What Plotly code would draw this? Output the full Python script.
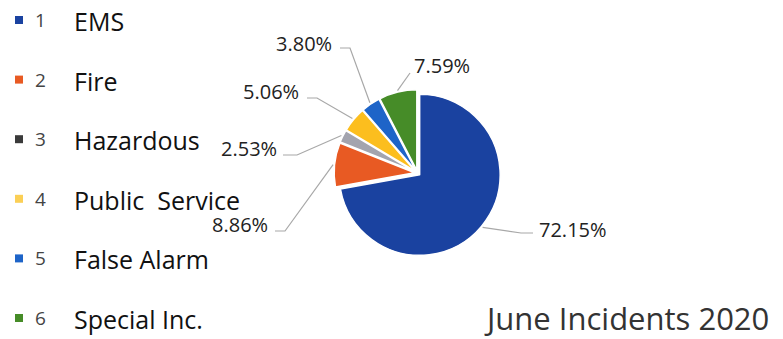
import math
import plotly.graph_objects as go

# ---- data ----
categories = ["EMS", "Fire", "Hazardous", "Public  Service", "False Alarm", "Special Inc."]
numbers = ["1", "2", "3", "4", "5", "6"]
percent_values = [72.15, 8.86, 2.53, 5.06, 3.80, 7.59]
pct_labels = ["72.15%", "8.86%", "2.53%", "5.06%", "3.80%", "7.59%"]
title_text = "June Incidents 2020"

# ---- styles / layout ----
W, H = 783, 339
pie_colors = ["#1a42a0", "#e85a23", "#a3a4ae", "#fcbe1e", "#1e64c8", "#468c28"]
legend_colors = ["#1a42a0", "#e85a23", "#3a3a3a", "#fbcf55", "#1e64c8", "#468c28"]
PULL = 0.035
CX, CY, R = 417.5, 173.0, 80.5
FONT = "Open Sans"

# label layout (pixels): elbow point, end of leader, text anchor
label_layout = [
    dict(elbow=(521, 233), end=(533, 233), text=(537, 229, "left")),
    dict(elbow=(285, 231), end=(275, 231), text=(270, 224, "right")),
    dict(elbow=(297, 155), end=(283, 155), text=(279, 148, "right")),
    dict(elbow=(317, 98), end=(307, 98), text=(301, 91, "right")),
    dict(elbow=(350, 48), end=(340, 48), text=(334, 43, "right")),
    dict(elbow=(410, 73), end=(410, 73), text=(412, 65, "left")),
]

half = R * (1 + PULL)
fig = go.Figure()

fig.add_trace(go.Pie(
    values=percent_values,
    labels=categories,
    sort=False,
    direction="clockwise",
    rotation=0,
    pull=[PULL] * len(percent_values),
    marker=dict(colors=pie_colors, line=dict(color="white", width=1.5)),
    textinfo="none",
    hoverinfo="label+percent",
    showlegend=False,
    domain=dict(x=[(CX - half) / W, (CX + half) / W],
                y=[1 - (CY + half) / H, 1 - (CY - half) / H]),
))

# legend markers (drawn as scatter on hidden pixel axes)
leg_y = [20 + 59.6 * i for i in range(len(categories))]
fig.add_trace(go.Scatter(
    x=[19] * len(categories), y=leg_y, mode="markers",
    marker=dict(symbol="square", size=8, color=legend_colors),
    hoverinfo="skip", showlegend=False,
))

shapes = []
annotations = []
total = sum(percent_values)
cum = 0.0
r_start = R * (1 + PULL) + 1.5
for v, lab, lay in zip(percent_values, pct_labels, label_layout):
    mid = (cum + v / 2) / total * 2 * math.pi
    cum += v
    sx = CX + r_start * math.sin(mid)
    sy = CY - r_start * math.cos(mid)
    ex, ey = lay["elbow"]
    fx, fy = lay["end"]
    shapes.append(dict(type="path", xref="x", yref="y",
                       path=f"M {sx:.1f} {sy:.1f} L {ex} {ey} L {fx} {fy}",
                       line=dict(color="#a8a8a8", width=1.2)))
    tx, ty, anc = lay["text"]
    annotations.append(dict(x=tx, y=ty, xref="x", yref="y", text=lab,
                            showarrow=False, xanchor=anc, yanchor="middle",
                            font=dict(family=FONT, size=20, color="#222222")))

for i, (num, cat) in enumerate(zip(numbers, categories)):
    annotations.append(dict(x=33, y=leg_y[i], xref="x", yref="y", text=num,
                            showarrow=False, xanchor="left", yanchor="middle",
                            font=dict(family=FONT, size=19, color="#444444")))
    annotations.append(dict(x=72, y=leg_y[i] + 1, xref="x", yref="y", text=cat,
                            showarrow=False, xanchor="left", yanchor="middle",
                            font=dict(family=FONT, size=25, color="#111111")))

annotations.append(dict(x=771, y=318, xref="x", yref="y", text=title_text,
                        showarrow=False, xanchor="right", yanchor="middle",
                        font=dict(family=FONT, size=31, color="#333333")))

fig.update_layout(
    width=W, height=H,
    margin=dict(l=0, r=0, t=0, b=0),
    paper_bgcolor="white", plot_bgcolor="rgba(0,0,0,0)",
    xaxis=dict(range=[0, W], visible=False, fixedrange=True, domain=[0, 1]),
    yaxis=dict(range=[H, 0], visible=False, fixedrange=True, domain=[0, 1]),
    shapes=shapes, annotations=annotations,
    showlegend=False,
)

fig.write_html("out.html",
               config={"displayModeBar": False},
               post_script="document.body.style.margin='0';")
